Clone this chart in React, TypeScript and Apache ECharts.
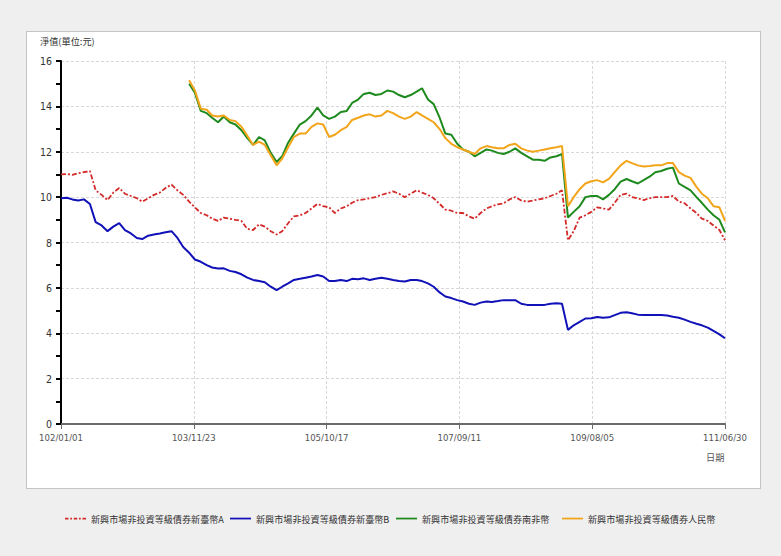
import React, { useEffect, useRef } from "react";
import * as echarts from "echarts";

const seriesNames = [
  "新興市場非投資等級債券新臺幣A",
  "新興市場非投資等級債券新臺幣B",
  "新興市場非投資等級債券南非幣",
  "新興市場非投資等級債券人民幣",
];
const xTickLabels = ["102/01/01", "103/11/23", "105/10/17", "107/09/11", "109/08/05", "111/06/30"];
const yTicks = [0, 2, 4, 6, 8, 10, 12, 14, 16];

// monthly samples from 102/01 (2013-01) to 111/06 end (2022-06-30)
const navA = [
  11.0, 11.02, 10.98, 11.05, 11.1, 11.15, 10.3, 10.1, 9.87, 10.2,
  10.4, 10.15, 10.05, 9.95, 9.8, 9.95, 10.1, 10.2, 10.4, 10.55,
  10.3, 10.1, 9.8, 9.55, 9.3, 9.2, 9.05, 8.95, 9.1, 9.05,
  9.0, 8.95, 8.6, 8.55, 8.8, 8.7, 8.5, 8.35, 8.5, 8.85,
  9.15, 9.2, 9.3, 9.5, 9.7, 9.6, 9.55, 9.3, 9.5, 9.6,
  9.75, 9.87, 9.9, 9.95, 10.0, 10.1, 10.17, 10.25, 10.15, 10.0,
  10.15, 10.3, 10.2, 10.1, 9.95, 9.7, 9.45, 9.4, 9.3, 9.3,
  9.15, 9.05, 9.3, 9.5, 9.6, 9.68, 9.73, 9.9, 10.0, 9.85,
  9.8, 9.85, 9.9, 9.95, 10.05, 10.15, 10.3, 8.1, 8.5, 9.1,
  9.2, 9.35, 9.55, 9.5, 9.45, 9.75, 10.1, 10.15, 10.0, 9.95,
  9.87, 9.95, 10.0, 10.0, 10.0, 10.05, 9.8, 9.73, 9.5, 9.3,
  9.05, 8.95, 8.75, 8.55, 8.1,
];
const navB = [
  9.95, 9.97, 9.9, 9.85, 9.9, 9.7, 8.9, 8.75, 8.5, 8.7,
  8.85, 8.55, 8.4, 8.2, 8.15, 8.3, 8.35, 8.4, 8.45, 8.5,
  8.2, 7.8, 7.55, 7.25, 7.15, 7.0, 6.9, 6.85, 6.86, 6.75,
  6.7, 6.6, 6.45, 6.35, 6.3, 6.25, 6.05, 5.9, 6.05, 6.2,
  6.35, 6.4, 6.45, 6.5, 6.57, 6.5, 6.3, 6.3, 6.35, 6.3,
  6.4, 6.38, 6.42, 6.35, 6.4, 6.45, 6.4, 6.35, 6.3, 6.28,
  6.35, 6.35, 6.3, 6.2, 6.05, 5.8, 5.62, 5.55, 5.46, 5.4,
  5.3, 5.25, 5.35, 5.4, 5.38, 5.42, 5.46, 5.45, 5.46, 5.3,
  5.25, 5.24, 5.24, 5.25, 5.3, 5.32, 5.3, 4.15, 4.35, 4.5,
  4.65, 4.66, 4.72, 4.68, 4.7, 4.8, 4.9, 4.93, 4.88, 4.82,
  4.8, 4.8, 4.8, 4.8, 4.78, 4.73, 4.68, 4.6, 4.5, 4.42,
  4.35, 4.25, 4.1, 3.95, 3.78,
];
// ZAR and CNY classes start at 103/11 (month index 22)
const zarStart = 22;
const navZAR = [
  15.0, 14.6, 13.8, 13.7, 13.5, 13.3, 13.55, 13.3, 13.2, 12.95,
  12.6, 12.3, 12.65, 12.5, 11.95, 11.55, 11.8, 12.4, 12.8, 13.2,
  13.35, 13.6, 13.95, 13.6, 13.45, 13.55, 13.75, 13.8, 14.15, 14.3,
  14.55, 14.6, 14.5, 14.55, 14.7, 14.65, 14.5, 14.4, 14.5, 14.65,
  14.8, 14.3, 14.1, 13.5, 12.8, 12.75, 12.35, 12.1, 12.0, 11.8,
  11.95, 12.1, 12.05, 11.95, 11.9, 12.0, 12.15, 11.95, 11.8, 11.65,
  11.65, 11.6, 11.75, 11.8, 11.9, 9.1, 9.35, 9.6, 10.0, 10.05,
  10.05, 9.9, 10.1, 10.35, 10.68, 10.8, 10.7, 10.6, 10.75, 10.9,
  11.1, 11.15, 11.25, 11.3, 10.6, 10.45, 10.3, 10.0, 9.75, 9.45,
  9.2, 9.0, 8.45,
];
const navCNY = [
  15.15, 14.7, 13.9, 13.85, 13.6, 13.55, 13.6, 13.4, 13.35, 13.1,
  12.7, 12.3, 12.45, 12.3, 11.85, 11.4, 11.7, 12.2, 12.65, 12.8,
  12.8, 13.1, 13.25, 13.2, 12.65, 12.75, 12.95, 13.1, 13.4, 13.5,
  13.6, 13.65, 13.55, 13.6, 13.8, 13.7, 13.55, 13.45, 13.55, 13.75,
  13.6, 13.45, 13.3, 13.0, 12.6, 12.35, 12.2, 12.1, 12.0, 11.9,
  12.15, 12.25, 12.2, 12.15, 12.15, 12.3, 12.35, 12.15, 12.05, 12.0,
  12.05, 12.1, 12.15, 12.2, 12.25, 9.6, 10.0, 10.35, 10.6, 10.7,
  10.75, 10.65, 10.8, 11.1, 11.4, 11.6, 11.5, 11.4, 11.35, 11.37,
  11.4, 11.4, 11.5, 11.5, 11.1, 10.95, 10.85, 10.45, 10.15, 9.95,
  9.6, 9.55, 8.95,
];

const DAY = 86400000;
const T0 = Date.UTC(2013, 0, 1);
const TOTAL_DAYS = (Date.UTC(2022, 5, 30) - T0) / DAY; // 3467
const X_INTERVAL = TOTAL_DAYS / 5;

// sample positions: first day of each month, plus the final date
const sampleDays: number[] = [];
for (let m = 0; m < 114; m++) sampleDays.push(Math.round((Date.UTC(2013, m, 1) - T0) / DAY));
sampleDays.push(TOTAL_DAYS);

const pair = (vals: number[], offset: number) => vals.map((v, i) => [sampleDays[i + offset], v]);

const COLORS = ["#d42a2a", "#1111b8", "#1e8a1e", "#f2a51a"];
const ICON_DASHDOT = "path://M0,0h4v2h-4z M6,0h2v2h-2z M10,0h4v2h-4z M16,0h2v2h-2z M20,0h4v2h-4z";
const ICON_SOLID = "path://M0,0h24v2h-24z";
const legendIcons = [ICON_DASHDOT, ICON_SOLID, ICON_SOLID, ICON_SOLID];

export default function App() {
  const ref = useRef<HTMLDivElement>(null);
  useEffect(() => {
    if (!ref.current) return;
    const chart = echarts.init(ref.current, null, { renderer: "svg" });
    const axisFont = "'Liberation Sans Narrow', 'DejaVu Sans Condensed', 'Roboto', sans-serif";
    const cjk = "'Noto Sans CJK TC', sans-serif";
    const legendLefts = [65, 230, 396, 562];
    chart.setOption({
      animation: false,
      backgroundColor: "transparent",
      grid: { left: 61, top: 61, right: 56, bottom: 132, containLabel: false },
      xAxis: {
        type: "value",
        min: 0,
        max: TOTAL_DAYS,
        interval: X_INTERVAL,
        axisLine: { show: true, lineStyle: { color: "#6a6a6a", width: 2 } },
        axisTick: { show: true, length: 5, lineStyle: { color: "#6a6a6a", width: 1 } },
        axisLabel: {
          fontFamily: axisFont,
          fontSize: 9.5,
          color: "#555",
          margin: 8,
          formatter: (v: number) => xTickLabels[Math.round(v / X_INTERVAL)] ?? "",
        },
        splitLine: { show: true, lineStyle: { color: "#d8d8d8", type: [3, 2], width: 1 } },
      },
      yAxis: {
        type: "value",
        min: yTicks[0],
        max: yTicks[yTicks.length - 1],
        interval: 2,
        axisLine: { show: true, lineStyle: { color: "#000", width: 2 } },
        axisTick: { show: true, length: 5, lineStyle: { color: "#000", width: 2 } },
        minorTick: { show: true, splitNumber: 2, length: 5, lineStyle: { color: "#000", width: 2 } },
        axisLabel: { fontFamily: axisFont, fontSize: 10.5, color: "#333", margin: 9 },
        splitLine: { show: true, lineStyle: { color: "#d8d8d8", type: [3, 2], width: 1 } },
      },
      legend: legendLefts.map((left, i) => ({
        left,
        top: 514,
        itemWidth: 21,
        itemHeight: 10,
        itemGap: 0,
        padding: 0,
        data: [{ name: seriesNames[i], icon: legendIcons[i] }],
        textStyle: { fontFamily: cjk, fontSize: 9.1, color: "#333" },
        selectedMode: false,
      })),
      graphic: [
        {
          type: "text",
          left: 40,
          top: 36,
          style: { text: "淨值(單位:元)", font: `9.2px ${cjk}`, fill: "#333" },
        },
        {
          type: "text",
          left: 706,
          top: 452,
          style: { text: "日期", font: `9.2px ${cjk}`, fill: "#555" },
        },
      ],
      series: [
        {
          name: seriesNames[0],
          type: "line",
          data: pair(navA, 0),
          showSymbol: false,
          symbol: "none",
          color: COLORS[0],
          lineStyle: { width: 1.8, type: [5, 2, 2, 2], color: COLORS[0] },
        },
        {
          name: seriesNames[1],
          type: "line",
          data: pair(navB, 0),
          showSymbol: false,
          symbol: "none",
          color: COLORS[1],
          lineStyle: { width: 2, color: COLORS[1] },
        },
        {
          name: seriesNames[2],
          type: "line",
          data: pair(navZAR, zarStart),
          showSymbol: false,
          symbol: "none",
          color: COLORS[2],
          lineStyle: { width: 2, color: COLORS[2] },
        },
        {
          name: seriesNames[3],
          type: "line",
          data: pair(navCNY, zarStart),
          showSymbol: false,
          symbol: "none",
          color: COLORS[3],
          lineStyle: { width: 2, color: COLORS[3] },
        },
      ],
    });
    return () => chart.dispose();
  }, []);

  return (
    <div style={{ position: "fixed", left: 0, top: 0, width: 781, height: 556, background: "#efefef" }}>
      <div
        style={{
          position: "absolute",
          left: 26,
          top: 31,
          width: 733,
          height: 456,
          background: "#fff",
          border: "1px solid #c4c4c4",
        }}
      />
      <div ref={ref} style={{ position: "absolute", left: 0, top: 0, width: 781, height: 556 }} />
    </div>
  );
}
